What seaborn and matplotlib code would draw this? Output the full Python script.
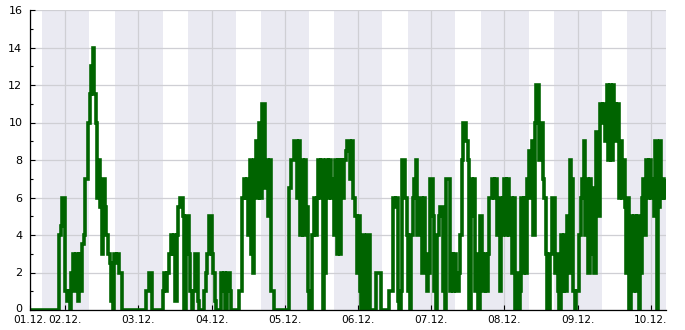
import matplotlib
matplotlib.use("Agg")
import matplotlib.pyplot as plt
from matplotlib.ticker import MultipleLocator
from matplotlib.transforms import ScaledTranslation
import pandas as pd
import seaborn as sns

# ---- data: half-hourly readings, starting 01.12. 12:30 ----
start_time = "2023-12-01 12:30"
day01 = [0, 0, 0, 0, 0, 0, 0, 0, 0, 0, 0, 0, 0, 0, 0, 0, 0, 0, 0, 4, 4.5, 6, 6]
day02 = [1, 0.5, 1, 0, 2, 3, 1, 3, 0.5, 3, 1, 3.5, 4, 7, 7, 10, 11.5, 13, 14, 11.5,
         10, 6, 8, 5.5, 3, 7, 5.5, 4, 3, 2.5, 0.5, 0, 3, 2.5, 3, 2, 2, 0, 0, 0,
         0, 0, 0, 0, 0, 0, 0, 0]
day03 = [0, 0, 0, 0, 0, 1, 1, 2, 2, 0, 0, 0, 0, 0, 0, 0, 1, 2, 1, 2,
         3, 4, 3, 4, 0.5, 4, 5.5, 6, 6, 5, 0, 5, 5, 3, 1, 0, 1, 3, 3, 0.5,
         0, 0, 0, 1, 2, 3, 5, 5]
day04 = [3, 2, 0.5, 0, 0, 0, 2, 1, 2, 0, 2, 2, 1, 0, 0, 0, 0, 0, 1, 1,
         6, 7, 6, 7, 4, 8, 3, 2, 8, 9, 6, 10, 6, 11, 11, 6.5, 8, 5, 8, 1,
         1, 0, 0, 0, 0, 0, 0, 0]
day05 = [0, 0, 0, 6.5, 8, 8, 9, 9, 6, 9, 4, 8, 4, 8, 5.5, 1, 0, 0, 4, 6,
         4, 6, 8, 6, 8, 0, 2, 8, 6, 8, 6, 7, 4, 8, 3, 8, 3, 8, 6, 8,
         8.5, 9, 9, 7, 9, 6, 5, 2]
day06 = [5, 1, 0, 4, 2, 0, 4, 4, 0, 0, 0, 0, 2, 2, 2, 0, 0, 0, 0, 0,
         1, 1, 1, 6, 5.5, 6, 0.5, 0, 1, 8, 8, 6, 4, 1, 0, 4, 6, 7, 8, 4,
         6, 6, 2, 6, 3, 1, 2, 7]
day07 = [7, 5, 1, 0, 4, 5, 5.5, 5.5, 1, 0, 7, 7, 1, 3, 1, 3, 1, 1, 2, 4,
         8, 10, 10, 9, 8, 0, 7, 5, 7, 1, 3, 0, 5, 3, 1, 3, 1, 3, 6, 6,
         7, 6, 7, 4, 6, 1, 4, 6]
day08 = [7, 4, 7, 4, 6, 2, 6, 0, 2, 0, 1, 6, 2, 6, 2, 7, 8.5, 6, 9, 4,
         10, 12, 12, 8, 10, 7, 6, 3, 0, 0, 3, 6, 6, 2, 3, 1, 0, 4, 1, 4,
         1, 5, 2, 8, 7, 1, 0, 1]
day09 = [1, 4, 6, 7, 9, 4, 7, 2, 7, 3, 6.5, 2, 9.5, 7, 5, 11, 10, 11, 9, 12,
         8, 12, 8, 12, 11, 9, 11, 6, 9, 6, 8, 5.5, 2, 6, 0, 5, 1, 5, 1, 5,
         0, 2, 6, 7, 4, 8, 6, 8]
day10 = [6, 7, 5, 9, 0, 5.5, 9, 6, 7, 6, 7]

values = day01 + day02 + day03 + day04 + day05 + day06 + day07 + day08 + day09 + day10
tick_labels = ["01.12.", "02.12.", "03.12.", "04.12.", "05.12.",
               "06.12.", "07.12.", "08.12.", "09.12.", "10.12."]
y_ticks = [0, 2, 4, 6, 8, 10, 12, 14, 16]

view_start = pd.Timestamp("2023-12-01 12:25")
view_end = pd.Timestamp("2023-12-10 05:00")
night_start = pd.Timedelta(hours=16, minutes=15)
night_end = pd.Timedelta(hours=31, minutes=55)

times = pd.date_range(start_time, periods=len(values), freq="30min")
df = pd.DataFrame({"time": times, "value": values})

sns.set_theme(style="white")
plt.rcParams["font.family"] = ["DejaVu Sans"]

fig = plt.figure(figsize=(6.85, 3.3), dpi=100)
ax = fig.add_axes([30 / 685, 20 / 330, 636 / 685, 300 / 330])

# night shading
days = pd.date_range("2023-12-01", "2023-12-10", freq="D")
for d in days:
    ax.axvspan(d + night_start, d + night_end, color="#EAEAF2", lw=0, zorder=0)

sns.lineplot(data=df, x="time", y="value", drawstyle="steps-post",
             color="#006400", linewidth=2.6, estimator=None, ax=ax, zorder=3,
             solid_joinstyle="miter", solid_capstyle="butt")

ax.set_xlim(view_start, view_end)
ax.set_ylim(0, 16)
tick_pos = [view_start] + list(days[1:])
ax.set_xticks(tick_pos)
ax.set_xticklabels(tick_labels)
ax.set_yticks(y_ticks)
ax.set_yticklabels([str(v) for v in y_ticks])
ax.yaxis.set_minor_locator(MultipleLocator(1))

ax.set_axisbelow(True)
ax.grid(True, which="major", color="#cfcfd4", linewidth=0.9, zorder=1)
ax.set_xlabel("")
ax.set_ylabel("")

for s in ["top", "right"]:
    ax.spines[s].set_visible(False)
for s in ["left", "bottom"]:
    ax.spines[s].set_color("black")
    ax.spines[s].set_linewidth(0.9)
    ax.spines[s].set_zorder(4)

ax.tick_params(axis="both", which="major", direction="in", length=3.5, width=0.8,
               labelsize=7.6, colors="black", left=True, bottom=True)
ax.tick_params(axis="y", which="minor", direction="in", length=2.5, width=0.8,
               left=True, colors="black")
ax.tick_params(axis="y", which="major", pad=5.5, labelsize=8)
ax.tick_params(axis="x", which="major", pad=3.5)

# nudge the "0" label up a little so it sits just above the first date label
zero_label = ax.yaxis.get_major_ticks()[0].label1
zero_label.set_transform(zero_label.get_transform() +
                         ScaledTranslation(0, 2.5 / 100, fig.dpi_scale_trans))

fig.savefig("out.png", dpi=100)
